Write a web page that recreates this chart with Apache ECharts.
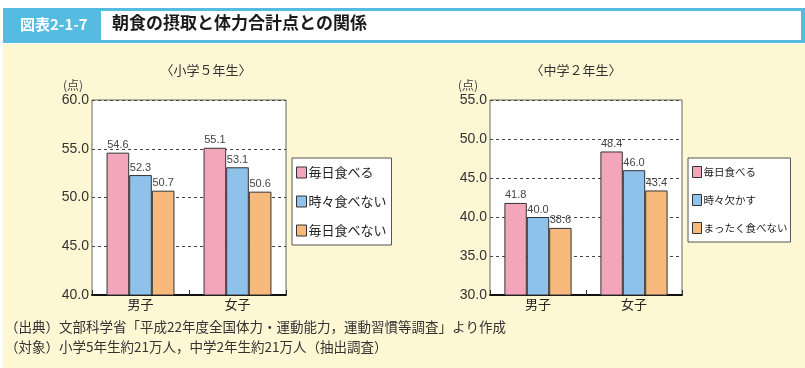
<!DOCTYPE html>
<html><head><meta charset="utf-8">
<script src="https://cdn.jsdelivr.net/npm/echarts@6/dist/echarts.min.js"></script>
<style>html,body{margin:0;padding:0;background:#fff}#c{width:805px;height:368px}</style>
</head><body><div id="c"></div>
<script>
const categories = ['男子', '女子'];
const leftNames = ['毎日食べる', '時々食べない', '毎日食べない'];
const leftEveryDay = [54.6, 55.1];
const leftSometimes = [52.3, 53.1];
const leftNever = [50.7, 50.6];
const rightNames = ['毎日食べる', '時々欠かす', 'まったく食べない'];
const rightEveryDay = [41.8, 48.4];
const rightSometimes = [40.0, 46.0];
const rightNever = [38.6, 43.4];
const leftTicks = {min: 40, max: 60, interval: 5};
const rightTicks = {min: 30, max: 55, interval: 5};
const colors = ['#F3A6BA', '#8FC2EA', '#F8B97C'];

const font = '"Liberation Sans", Arial, "Noto Sans CJK JP", sans-serif';
const jp = '"Noto Sans CJK JP", sans-serif';

function yAxis(idx, t) {
  return {
    type: 'value', gridIndex: idx, min: t.min, max: t.max, interval: t.interval,
    axisLine: {show: false}, axisTick: {show: false},
    axisLabel: {formatter: v => v.toFixed(1), fontSize: 14, color: '#333', fontFamily: font, margin: 3},
    splitLine: {show: true, lineStyle: {color: '#444', type: [3, 3], width: 1}}
  };
}
function xAxis(idx) {
  return {
    type: 'category', gridIndex: idx, data: categories,
    axisLine: {show: true, lineStyle: {color: '#111', width: 2}},
    axisTick: {show: true, inside: true, length: 5, lineStyle: {color: '#333'}},
    axisLabel: {fontSize: 13, color: '#222', fontFamily: jp, margin: 3}
  };
}
function bars(names, arrs, idx) {
  return arrs.map((d, i) => ({
    type: 'bar', name: names[i], xAxisIndex: idx, yAxisIndex: idx, data: d,
    barGap: '0%', barCategoryGap: '30%',
    itemStyle: {color: colors[i], borderColor: '#333', borderWidth: 1},
    label: {show: true, position: 'top', distance: 2, fontSize: 11, color: '#444', fontFamily: font,
      formatter: p => p.value.toFixed(1)}
  }));
}
function legend(names, left, fs, iw, pad) {
  return {
    data: names, orient: 'vertical', left: left, top: 158, icon: 'rect',
    itemWidth: iw, itemHeight: 11, itemGap: 16,
    padding: pad, backgroundColor: '#fff', borderColor: '#555', borderWidth: 1,
    selectedMode: false,
    itemStyle: {borderColor: '#333', borderWidth: 1},
    textStyle: {fontSize: fs, color: '#222', fontFamily: jp, padding: [0, 0, 0, -3]}
  };
}

const chart = echarts.init(document.getElementById('c'));
chart.setOption({
  animation: false,
  color: colors,
  graphic: [
    {type: 'rect', shape: {x: 3, y: 44, width: 802, height: 324}, style: {fill: '#FEF7D4'}, z: -10},
    {type: 'rect', shape: {x: 3, y: 8, width: 802, height: 35}, style: {fill: '#55BBE1'}, z: -5},
    {type: 'rect', shape: {x: 101, y: 11, width: 700, height: 29}, style: {fill: '#fff'}, z: -4},
    {type: 'text', left: 20, top: 17, style: {text: '図表2-1-7', fill: '#fff', font: 'bold 15px ' + jp}},
    {type: 'text', left: 112, top: 14, style: {text: '朝食の摂取と体力合計点との関係', fill: '#1a1a1a', font: 'bold 17px ' + jp}},
    {type: 'text', x: 206, y: 70, style: {text: '〈小学５年生〉', fill: '#333', font: '13px ' + jp, align: 'center', verticalAlign: 'middle'}},
    {type: 'text', x: 576, y: 70, style: {text: '〈中学２年生〉', fill: '#333', font: '13px ' + jp, align: 'center', verticalAlign: 'middle'}},
    {type: 'text', x: 63, y: 85, style: {text: '(点)', fill: '#444', font: '12px ' + jp, verticalAlign: 'middle'}},
    {type: 'text', x: 458, y: 85, style: {text: '(点)', fill: '#444', font: '12px ' + jp, verticalAlign: 'middle'}},
    {type: 'text', x: 5, y: 327, style: {text: '（出典）文部科学省「平成22年度全国体力・運動能力，運動習慣等調査」より作成', fill: '#333', font: '13.5px ' + jp, verticalAlign: 'middle'}},
    {type: 'text', x: 5, y: 347, style: {text: '（対象）小学5年生約21万人，中学2年生約21万人（抽出調査）', fill: '#333', font: '13.5px ' + jp, verticalAlign: 'middle'}}
  ],
  grid: [
    {left: 92, top: 100, width: 194, height: 195, show: true, backgroundColor: '#fff', borderColor: '#666', borderWidth: 1},
    {left: 490, top: 100, width: 192, height: 195, show: true, backgroundColor: '#fff', borderColor: '#666', borderWidth: 1}
  ],
  xAxis: [xAxis(0), xAxis(1)],
  yAxis: [yAxis(0, leftTicks), yAxis(1, rightTicks)],
  legend: [legend(leftNames, 292, 13, 10, [8, 5, 8, 4]), legend(rightNames, 688, 10.5, 9, [8, 3, 8, 4])],
  series: [
    ...bars(leftNames, [leftEveryDay, leftSometimes, leftNever], 0),
    ...bars(rightNames, [rightEveryDay, rightSometimes, rightNever], 1)
  ]
});
</script></body></html>
